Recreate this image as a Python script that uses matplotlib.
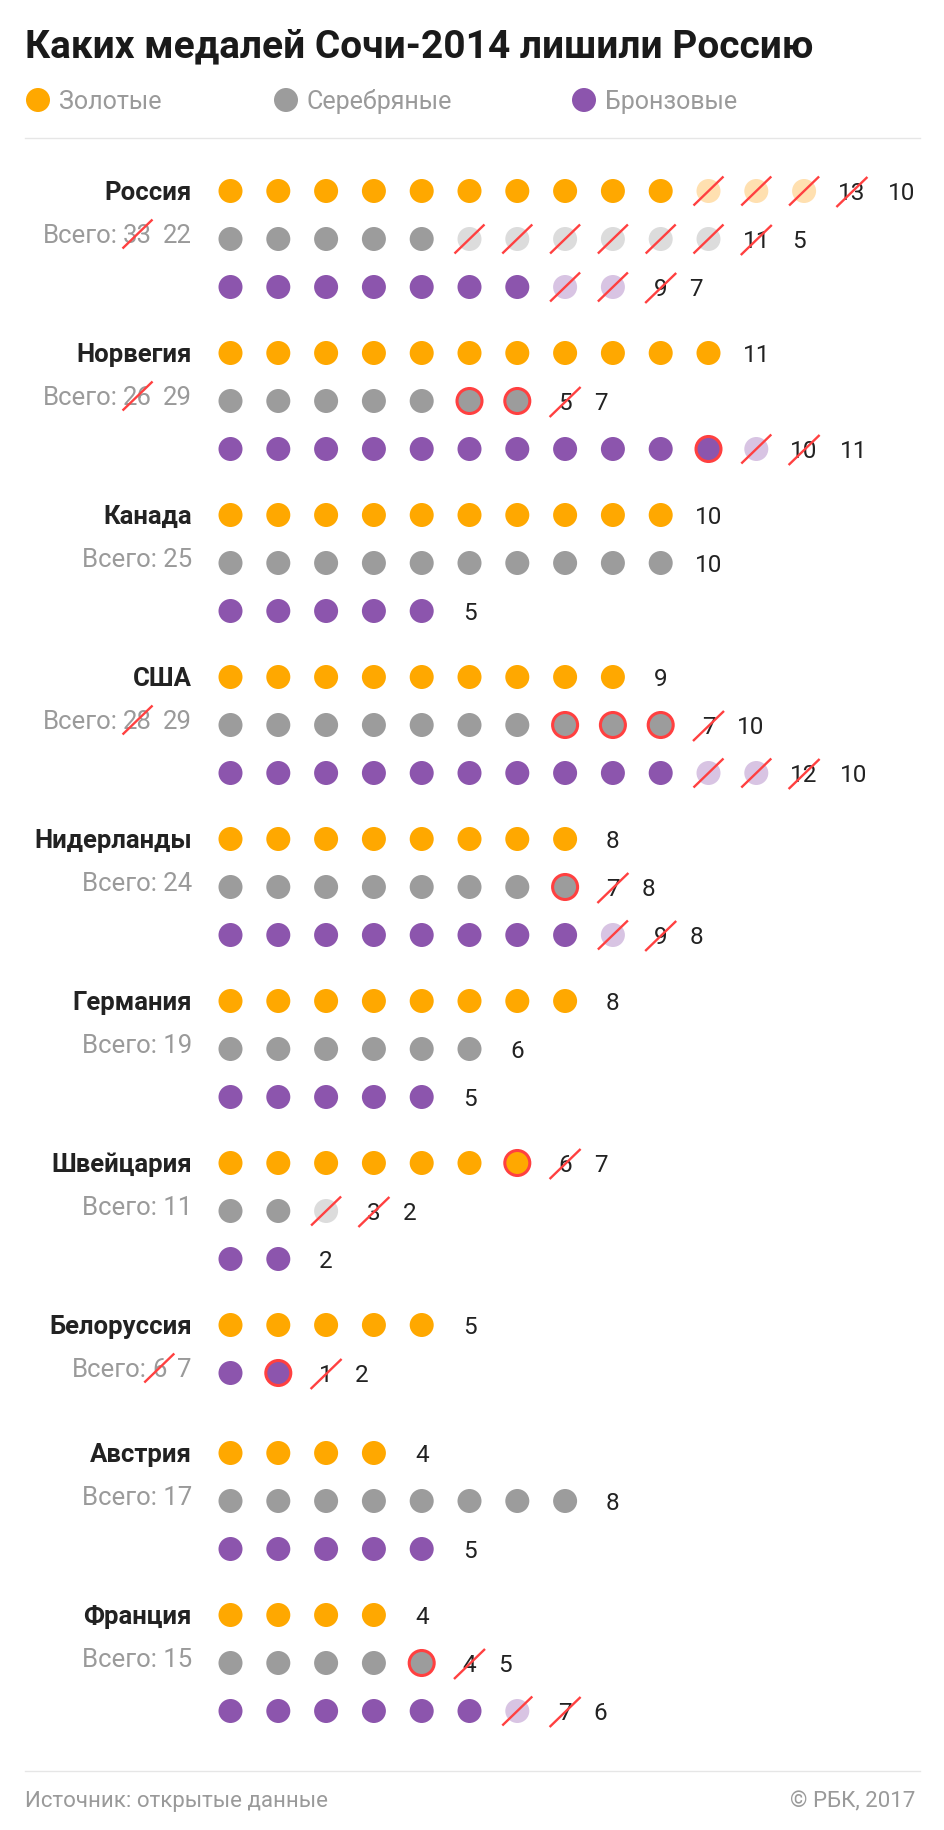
import matplotlib.pyplot as plt
from matplotlib.patches import Circle

plt.rcParams['font.family'] = ['Roboto', 'DejaVu Sans']

# данные: сохранённые / добавленные / отобранные медали и подписи
countries = ['Россия', 'Норвегия', 'Канада', 'США', 'Нидерланды',
             'Германия', 'Швейцария', 'Белоруссия', 'Австрия', 'Франция']
total_old = [33, 26, None, 28, None, None, None, 6, None, None]
total_new = [22, 29, 25, 29, 24, 19, 11, 7, 17, 15]

gold_kept = [10, 11, 10, 9, 8, 8, 6, 5, 4, 4]
gold_added = [0, 0, 0, 0, 0, 0, 1, 0, 0, 0]
gold_removed = [3, 0, 0, 0, 0, 0, 0, 0, 0, 0]
gold_old = [13, None, None, None, None, None, 6, None, None, None]
gold_new = [10, 11, 10, 9, 8, 8, 7, 5, 4, 4]

silver_kept = [5, 5, 10, 7, 7, 6, 2, 0, 8, 4]
silver_added = [0, 2, 0, 3, 1, 0, 0, 0, 0, 1]
silver_removed = [6, 0, 0, 0, 0, 0, 1, 0, 0, 0]
silver_old = [11, 5, None, 7, 7, None, 3, None, None, 4]
silver_new = [5, 7, 10, 10, 8, 6, 2, None, 8, 5]

bronze_kept = [7, 10, 5, 10, 8, 5, 2, 1, 5, 6]
bronze_added = [0, 1, 0, 0, 0, 0, 0, 1, 0, 0]
bronze_removed = [2, 1, 0, 2, 1, 0, 0, 0, 0, 1]
bronze_old = [9, 10, None, 12, 9, None, None, 1, None, 7]
bronze_new = [7, 11, 5, 10, 8, 5, 2, 2, 5, 6]

legend_labels = ['Золотые', 'Серебряные', 'Бронзовые']

# цвета
GOLD, SILVER, BRONZE = '#FFA800', '#9C9C9C', '#8C55AD'
GOLD_L, SILVER_L, BRONZE_L = '#FFE0B0', '#DCDCDC', '#D8C4E3'
RED = '#FF4040'
DARK = '#222222'
GREY = '#9A9A9A'

W, H = 945, 1830
fig = plt.figure(figsize=(W / 100, H / 100), dpi=100)
fig.patch.set_facecolor('white')
ax = fig.add_axes([0, 0, 1, 1])
ax.set_xlim(0, W)
ax.set_ylim(H, 0)
ax.set_aspect('equal')
ax.axis('off')
renderer = fig.canvas.get_renderer()


def width(t):
    return t.get_window_extent(renderer=renderer).width


def strike(cx, cy, dx=15, dy=14.5):
    ax.plot([cx - dx, cx + dx], [cy + dy, cy - dy], color=RED, lw=1.7,
            solid_capstyle='butt', zorder=5)


# заголовок и легенда
ax.text(25, 57, 'Каких медалей Сочи-2014 лишили Россию', fontsize=28,
        fontweight='bold', color='#1A1A1A', ha='left', va='baseline')
for lx, lab, col in zip([38, 286, 584], legend_labels, [GOLD, SILVER, BRONZE]):
    ax.add_patch(Circle((lx, 100), 12, color=col, lw=0))
    ax.text(lx + 21, 109, lab, fontsize=18, color=GREY, ha='left', va='baseline')
ax.plot([25, 920], [138, 138], color='#E6E6E6', lw=1)

X0, DX = 230.5, 47.8
ROW, Y0 = 48, 191
NUM_FS = 17.5
LAB_FS = 18.5

kinds = [
    (gold_kept, gold_added, gold_removed, gold_old, gold_new, GOLD, GOLD_L),
    (silver_kept, silver_added, silver_removed, silver_old, silver_new, SILVER, SILVER_L),
    (bronze_kept, bronze_added, bronze_removed, bronze_old, bronze_new, BRONZE, BRONZE_L),
]

y = Y0
for i, name in enumerate(countries):
    rows = [k for k in kinds if k[4][i] is not None]
    # подписи страны
    ax.text(192, y + 9, name, fontsize=18.5, fontweight='bold', color=DARK,
            ha='right', va='baseline')
    ty = y + ROW + 4
    if total_old[i] is None:
        ax.text(192, ty, f'Всего: {total_new[i]}', fontsize=LAB_FS, color=GREY,
                ha='right', va='baseline')
    else:
        t_new = ax.text(192, ty, str(total_new[i]), fontsize=LAB_FS, color=GREY,
                        ha='right', va='baseline')
        ox = 192 - width(t_new) - 11
        t_old = ax.text(ox, ty, str(total_old[i]), fontsize=LAB_FS, color=GREY,
                        ha='right', va='baseline')
        wo = width(t_old)
        strike(ox - wo / 2, ty - 9)
        ax.text(ox - wo - 5, ty, 'Всего:', fontsize=LAB_FS, color=GREY,
                ha='right', va='baseline')

    for r, (kept, added, removed, old, new, col, col_l) in enumerate(rows):
        ry = y + r * ROW
        n = 0
        for _ in range(kept[i]):
            ax.add_patch(Circle((X0 + n * DX, ry), 12, color=col, lw=0))
            n += 1
        for _ in range(added[i]):
            ax.add_patch(Circle((X0 + n * DX, ry), 12.5, facecolor=col,
                                edgecolor=RED, lw=2.2, zorder=3))
            n += 1
        for _ in range(removed[i]):
            cx = X0 + n * DX
            ax.add_patch(Circle((cx, ry), 12, color=col_l, lw=0))
            strike(cx, ry)
            n += 1
        lx = X0 + n * DX
        if old[i] is None:
            ax.text(lx, ry + 8.6, str(new[i]), fontsize=NUM_FS, color=DARK,
                    ha='center', va='baseline')
        else:
            t_old = ax.text(lx, ry + 8.6, str(old[i]), fontsize=NUM_FS,
                            color=DARK, ha='center', va='baseline')
            strike(lx, ry + 1, 15.5, 15)
            ax.text(lx + width(t_old) / 2 + 22, ry + 8.6, str(new[i]),
                    fontsize=NUM_FS, color=DARK, ha='left', va='baseline')

    y += max((len(rows) - 1) * ROW, 62) + 66

# подвал
ax.plot([25, 920], [1771, 1771], color='#E6E6E6', lw=1)
ax.text(25, 1807, 'Источник: открытые данные', fontsize=16, color=GREY,
        ha='left', va='baseline')
ax.text(915, 1807, '© РБК, 2017', fontsize=16, color=GREY,
        ha='right', va='baseline')

fig.savefig('out.png', dpi=100, facecolor='white')
